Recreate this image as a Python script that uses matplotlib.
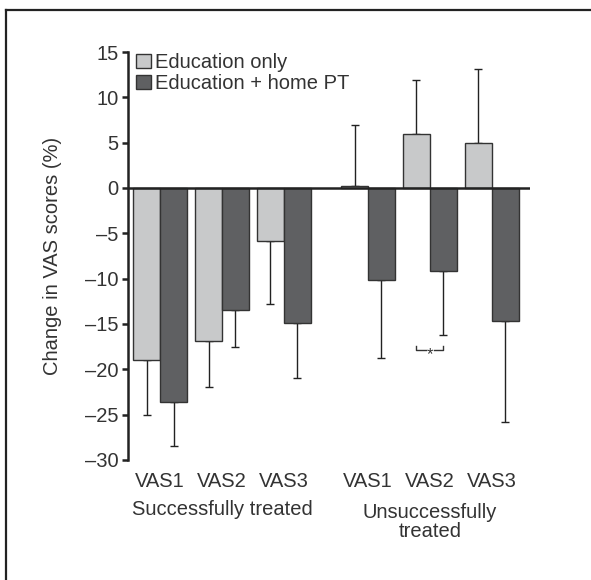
import numpy as np
import matplotlib.pyplot as plt
from matplotlib.lines import Line2D

# data
groups = ["Successfully treated", "Unsuccessfully\ntreated"]
tick_labels = ["VAS1", "VAS2", "VAS3", "VAS1", "VAS2", "VAS3"]
edu_only = [-19.0, -16.9, -5.9, 0.25, 5.95, 5.0]
edu_only_err = [6.0, 5.1, 6.9, 6.7, 6.0, 8.1]
edu_pt = [-23.6, -13.5, -14.9, -10.1, -9.2, -14.7]
edu_pt_err = [4.9, 4.0, 6.1, 8.6, 7.0, 11.1]

plt.rcParams['font.family'] = ['Liberation Sans', 'DejaVu Sans']
txt = "#333333"
light = "#c8c9ca"
dark = "#5f6062"
edge = "#333333"
fs = 14.5

fig = plt.figure(figsize=(5.91, 5.80), dpi=100)
# outer frame: only its top and left edges fall inside the picture
fx, fy = 6 / 591, 1 - 10 / 580
fig.add_artist(Line2D([fx, 1.0], [fy, fy], transform=fig.transFigure,
                      color="#222222", linewidth=1.6))
fig.add_artist(Line2D([fx, fx], [0.0, fy], transform=fig.transFigure,
                      color="#222222", linewidth=1.6))

ax = fig.add_axes([128 / 591, (580 - 460) / 580, (530 - 128) / 591, (460 - 52) / 580])

x = np.array([0, 1, 2, 3.36, 4.36, 5.36])
w = 0.435

def one_sided(vals, errs):
    lo = [e if v < 0 else 0 for v, e in zip(vals, errs)]
    hi = [e if v >= 0 else 0 for v, e in zip(vals, errs)]
    return [lo, hi]

ax.bar(x - w / 2, edu_only, w, color=light, edgecolor=edge, linewidth=1.0,
       label="Education only", zorder=2)
ax.bar(x + w / 2, edu_pt, w, color=dark, edgecolor=edge, linewidth=1.0,
       label="Education + home PT", zorder=2)
ax.errorbar(x - w / 2, edu_only, yerr=one_sided(edu_only, edu_only_err), fmt="none",
            ecolor="#222222", elinewidth=1.0, capsize=3, capthick=1.0, zorder=1)
ax.errorbar(x + w / 2, edu_pt, yerr=one_sided(edu_pt, edu_pt_err), fmt="none",
            ecolor="#222222", elinewidth=1.0, capsize=3, capthick=1.0, zorder=1)

ax.axhline(0, color="#222222", linewidth=1.8, zorder=3)

# significance bracket for unsuccessfully treated VAS2
bx0, bx1, by = x[4] - w / 2, x[4] + w / 2, -17.9
ax.plot([bx0, bx0, bx0 + 0.15], [by + 0.5, by, by], color=txt, linewidth=1.0)
ax.plot([bx1 - 0.15, bx1, bx1], [by, by, by + 0.5], color=txt, linewidth=1.0)
ax.text(x[4], by - 0.45, "*", ha="center", va="center", fontsize=12, color=txt)

ax.set_xlim(-0.52, 5.98)
ax.set_ylim(-30, 15)
ax.set_yticks(range(-30, 16, 5))
ax.set_yticklabels([str(v).replace("-", "\u2013") for v in range(-30, 16, 5)])
ax.set_xticks([])
for s in ["top", "right", "bottom"]:
    ax.spines[s].set_visible(False)
ax.spines["left"].set_linewidth(1.8)
ax.spines["left"].set_color("#222222")
ax.tick_params(axis="y", length=4, width=1.8, color="#222222", labelsize=fs,
               labelcolor=txt, pad=3)
ax.set_ylabel("Change in VAS scores (%)", fontsize=fs, color=txt, labelpad=16)

for xi, lab in zip(x, tick_labels):
    ax.text(xi, -32.4, lab, ha="center", va="center", fontsize=fs, color=txt)
ax.text(x[1], -35.5, groups[0], ha="center", va="center", fontsize=fs, color=txt)
ax.text(x[4], -36.8, groups[1], ha="center", va="center", fontsize=fs, color=txt,
        linespacing=1.0)

leg = ax.legend(loc="upper left", bbox_to_anchor=(0.0, 1.017), frameon=False,
                fontsize=fs, handlelength=0.75, handleheight=0.75, handletextpad=0.2,
                labelspacing=0.1, borderaxespad=0)
for t in leg.get_texts():
    t.set_color(txt)

fig.savefig("out.png", dpi=100)
